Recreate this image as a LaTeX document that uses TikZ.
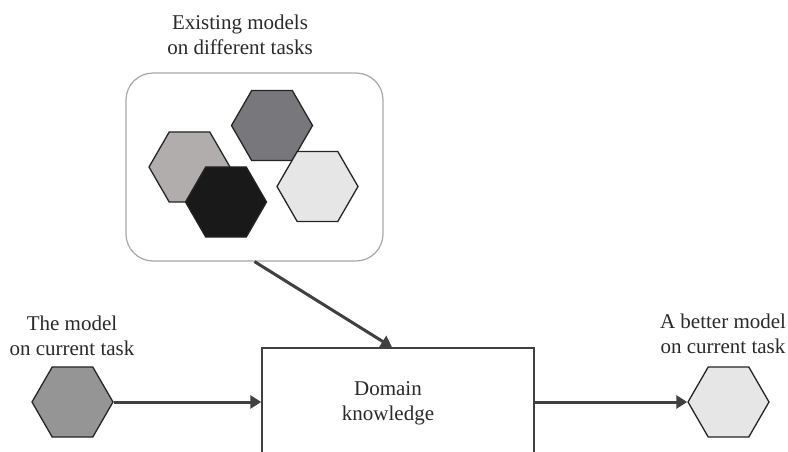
\documentclass[tikz,border=0pt]{standalone}
\usepackage{fontspec}
\setmainfont{Liberation Serif}
\usetikzlibrary{arrows.meta,shapes.geometric}
\definecolor{txt}{HTML}{2A2A2A}
\definecolor{edge}{HTML}{404040}
\definecolor{hexline}{HTML}{252525}
\definecolor{gA}{HTML}{B0ADAC}
\definecolor{gB}{HTML}{78787C}
\definecolor{gC}{HTML}{1A1919}
\definecolor{gD}{HTML}{E6E6E6}
\definecolor{gE}{HTML}{959595}
\definecolor{roundline}{HTML}{A8A8A8}
\tikzset{
  hexa/.style={regular polygon, regular polygon sides=6, minimum size=81pt, inner sep=0pt, draw=hexline, line width=1.3pt},
  lbl/.style={font=\fontsize{21}{25}\selectfont, text=txt, align=center, inner sep=0pt},
  conn/.style={draw=edge, line width=3pt, -{Triangle[length=11pt,width=13pt]}},
}
\begin{document}
\begin{tikzpicture}[x=1pt,y=-1pt]
\useasboundingbox (0,0) rectangle (788,452);
\clip (0,0) rectangle (788,452);
\fill[white] (0,0) rectangle (788,452);
% top rounded box
\node (exist) [draw=roundline, line width=1.2pt, rounded corners=27pt, minimum width=257pt, minimum height=188pt, inner sep=0pt] at (254.5,167) {};
\node (h1) [hexa, fill=gA] at (189.5,167) {};
\node (h2) [hexa, fill=gC] at (226,202) {};
\node (h3) [hexa, fill=gB] at (272,125.5) {};
\node (h4) [hexa, fill=gD] at (317.5,186.5) {};
\node (tl) [lbl, anchor=base] at (240,55) {Existing models\\on different tasks};
% domain box
\node (box) [draw=edge, line width=1.5pt, minimum width=272pt, minimum height=108pt, inner sep=0pt] at (398,402) {};
\node (dk) [lbl] at (388,403) {Domain\\knowledge};
% left and right models
\node (left) [hexa, fill=gE] at (72.5,402) {};
\node (ll) [lbl, anchor=base] at (72,355) {The model\\on current task};
\node (right) [hexa, fill=gD] at (728.5,402) {};
\node (rl) [lbl, anchor=base] at (723,353) {A better model\\on current task};
% connectors
\coordinate (dtop) at ([xshift=-6pt]box.north);
\draw[conn] (exist.south) -- (dtop);
\draw[conn] (left.east) -- (box.west);
\draw[conn] (box.east) -- (right.west);
\end{tikzpicture}
\end{document}
